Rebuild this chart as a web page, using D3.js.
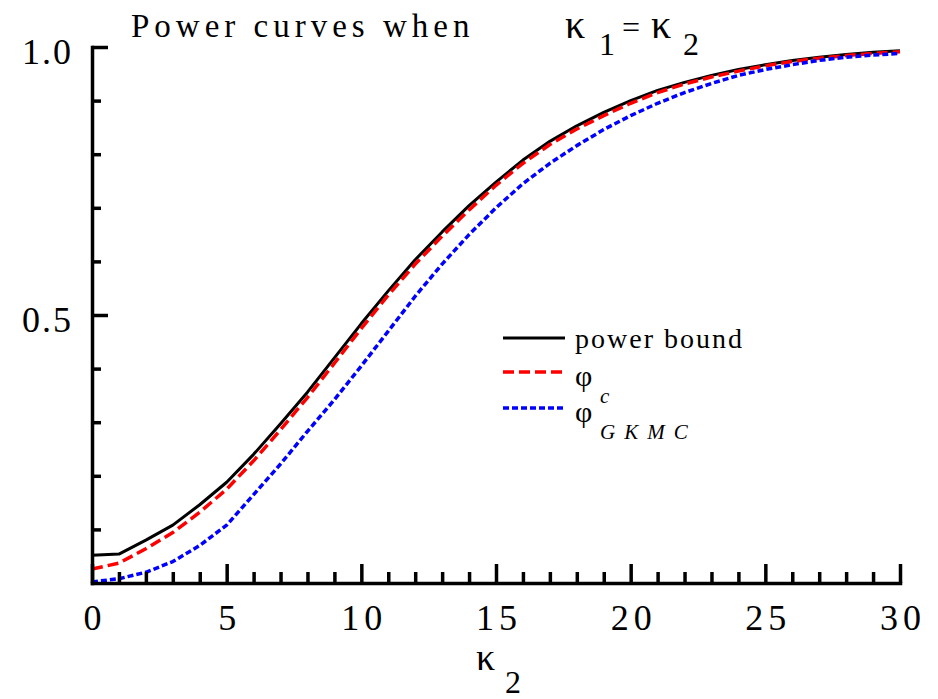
<!DOCTYPE html>
<html>
<head>
<meta charset="utf-8">
<script src="https://cdn.jsdelivr.net/npm/d3@7"></script>
<style>
  body { margin: 0; background: #fff; }
  .axis path, .axis line { stroke: #000; stroke-width: 3.5px; }
  .line { fill: none; stroke-linejoin: round; }
</style>
</head>
<body>
<div id="chart"></div>
<script>
// kappa_2 values along the x axis
const kappa = [0, 1, 2, 3, 4, 5, 6, 7, 8, 9, 10, 11, 12, 13, 14, 15, 16, 17, 18, 19, 20,
               21, 22, 23, 24, 25, 26, 27, 28, 29, 30];

// power bound
const powerBound = [0.052, 0.054, 0.080, 0.108, 0.146, 0.188, 0.240, 0.297, 0.356, 0.420, 0.484,
                    0.545, 0.603, 0.655, 0.704, 0.748, 0.789, 0.824, 0.853, 0.878, 0.900,
                    0.919, 0.934, 0.947, 0.958, 0.967, 0.975, 0.981, 0.986, 0.990, 0.993];

// phi_c
const phiC = [0.026, 0.037, 0.064, 0.094, 0.132, 0.175, 0.228, 0.286, 0.346, 0.410, 0.475,
              0.537, 0.595, 0.647, 0.696, 0.742, 0.783, 0.818, 0.847, 0.872, 0.895,
              0.915, 0.931, 0.944, 0.955, 0.965, 0.973, 0.979, 0.984, 0.988, 0.991];

// phi_GKMC
const phiGKMC = [0.002, 0.008, 0.020, 0.040, 0.070, 0.108, 0.165, 0.222, 0.283, 0.342, 0.405,
                 0.470, 0.535, 0.595, 0.650, 0.700, 0.745, 0.783, 0.816, 0.846, 0.872,
                 0.895, 0.915, 0.932, 0.947, 0.958, 0.967, 0.975, 0.981, 0.985, 0.988];

const xMajor = [0, 5, 10, 15, 20, 25, 30];
const xMinor = [1, 2, 3, 4, 6, 7, 8, 9, 11, 12, 13, 14, 16, 17, 18, 19, 21, 22, 23, 24, 26, 27, 28, 29];
const yMajor = [0.5, 1.0];
const yMinor = [0.1, 0.2, 0.3, 0.4, 0.6, 0.7, 0.8, 0.9];

const seriesNames = ["power bound", "φ", "φ"];
const seriesSubs = ["", "c", "GKMC"];
const seriesColors = ["#000000", "#ff0000", "#0000ff"];

(function() {
  var width = 938,
      height = 699,
      serif = "Liberation Serif, Times New Roman, DejaVu Serif, serif";

  var x = d3.scaleLinear()
      .domain([0, 30])
      .range([92, 900]);

  var y = d3.scaleLinear()
      .domain([0, 1])
      .range([583, 47]);

  var svg = d3.select("#chart").append("svg")
      .attr("width", width)
      .attr("height", height)
      .style("display", "block")
      .style("font-family", serif);

  var series = [
    { name: seriesNames[0], sub: seriesSubs[0], color: seriesColors[0], values: powerBound, dash: null, w: 3 },
    { name: seriesNames[1], sub: seriesSubs[1], color: seriesColors[1], values: phiC, dash: "11,5", w: 3.5 },
    { name: seriesNames[2], sub: seriesSubs[2], color: seriesColors[2], values: phiGKMC, dash: "6,3", w: 3.5 }
  ];

  var line = d3.line()
      .x((_, i) => x(kappa[i]))
      .y(d => y(d));

  // curves (drawn first so axes sit on top)
  svg.append("g")
    .selectAll("path")
    .data(series)
    .join("path")
      .attr("class", "line")
      .attr("stroke", d => d.color)
      .attr("stroke-width", d => d.w)
      .attr("stroke-dasharray", d => d.dash)
      .attr("d", d => line(d.values));

  // x axis: minor then major ticks, pointing inward
  svg.append("g")
      .attr("class", "x axis")
      .attr("transform", "translate(0," + y(0) + ")")
      .call(d3.axisBottom(x).tickValues(xMinor).tickSize(-11).tickSizeOuter(0).tickFormat(""))
      .call(g => g.select(".domain").remove());

  svg.append("g")
      .attr("class", "x axis major")
      .attr("transform", "translate(0," + y(0) + ")")
      .call(d3.axisBottom(x).tickValues(xMajor).tickSize(-19).tickSizeOuter(0).tickPadding(21).tickFormat(d3.format("d")))
      .call(g => g.select(".domain").attr("stroke-linecap", "square"));

  // y axis
  svg.append("g")
      .attr("class", "y axis")
      .attr("transform", "translate(" + x(0) + ",0)")
      .call(d3.axisLeft(y).tickValues(yMinor).tickSize(-9).tickSizeOuter(0).tickFormat(""))
      .call(g => g.select(".domain").remove());

  svg.append("g")
      .attr("class", "y axis major")
      .attr("transform", "translate(" + x(0) + ",0)")
      .call(d3.axisLeft(y).tickValues(yMajor).tickSize(-16).tickSizeOuter(0).tickPadding(19).tickFormat(d3.format(".1f")))
      .call(g => g.selectAll(".tick text").attr("dy", "0.45em"))
      .call(g => g.select(".domain").attr("stroke-linecap", "square"));

  svg.selectAll(".axis")
      .attr("font-family", null)
      .attr("font-size", 36)
      .attr("letter-spacing", "2px");

  svg.selectAll(".x.axis.major .tick text")
      .attr("letter-spacing", "5px")
      .attr("dx", "2.5px");

  // title
  svg.append("text")
      .attr("x", 131)
      .attr("y", 37)
      .attr("font-size", "33px")
      .attr("letter-spacing", "5px")
      .text("Power curves when");

  var eq = svg.append("text")
      .attr("y", 38)
      .attr("font-size", "32px");
  eq.append("tspan").attr("x", 565).attr("font-size", "40px").text("κ");
  eq.append("tspan").attr("x", 599).attr("y", 55).text("1");
  eq.append("tspan").attr("x", 622).attr("y", 38).text("=");
  eq.append("tspan").attr("x", 651).attr("font-size", "40px").text("κ");
  eq.append("tspan").attr("x", 683).attr("y", 55).text("2");

  // x axis title
  var xt = svg.append("text")
      .attr("y", 670)
      .attr("font-size", "32px");
  xt.append("tspan").attr("x", 476).attr("font-size", "38px").text("κ");
  xt.append("tspan").attr("x", 505).attr("y", 693).text("2");

  // legend
  var legend = svg.append("g")
      .attr("transform", "translate(503,338)");

  var item = legend.selectAll("g")
    .data(series)
    .join("g")
      .attr("transform", (d, i) => "translate(0," + [0, 34, 70][i] + ")");

  item.append("line")
      .attr("x1", 0)
      .attr("x2", 62)
      .attr("stroke", d => d.color)
      .attr("stroke-width", d => d.w)
      .attr("stroke-dasharray", d => d.dash);

  var lt = item.append("text")
      .attr("x", 72)
      .attr("y", (d, i) => i == 0 ? 10 : 14)
      .attr("font-size", (d, i) => i == 0 ? "28px" : "30px")
      .attr("letter-spacing", (d, i) => i == 0 ? "2px" : null)
      .text(d => d.name);

  lt.filter(d => d.sub)
    .append("tspan")
      .attr("x", 97)
      .attr("dy", 17)
      .attr("font-size", "21px")
      .attr("font-style", "italic")
      .attr("letter-spacing", "9px")
      .text(d => d.sub);
})();
</script>
</body>
</html>
